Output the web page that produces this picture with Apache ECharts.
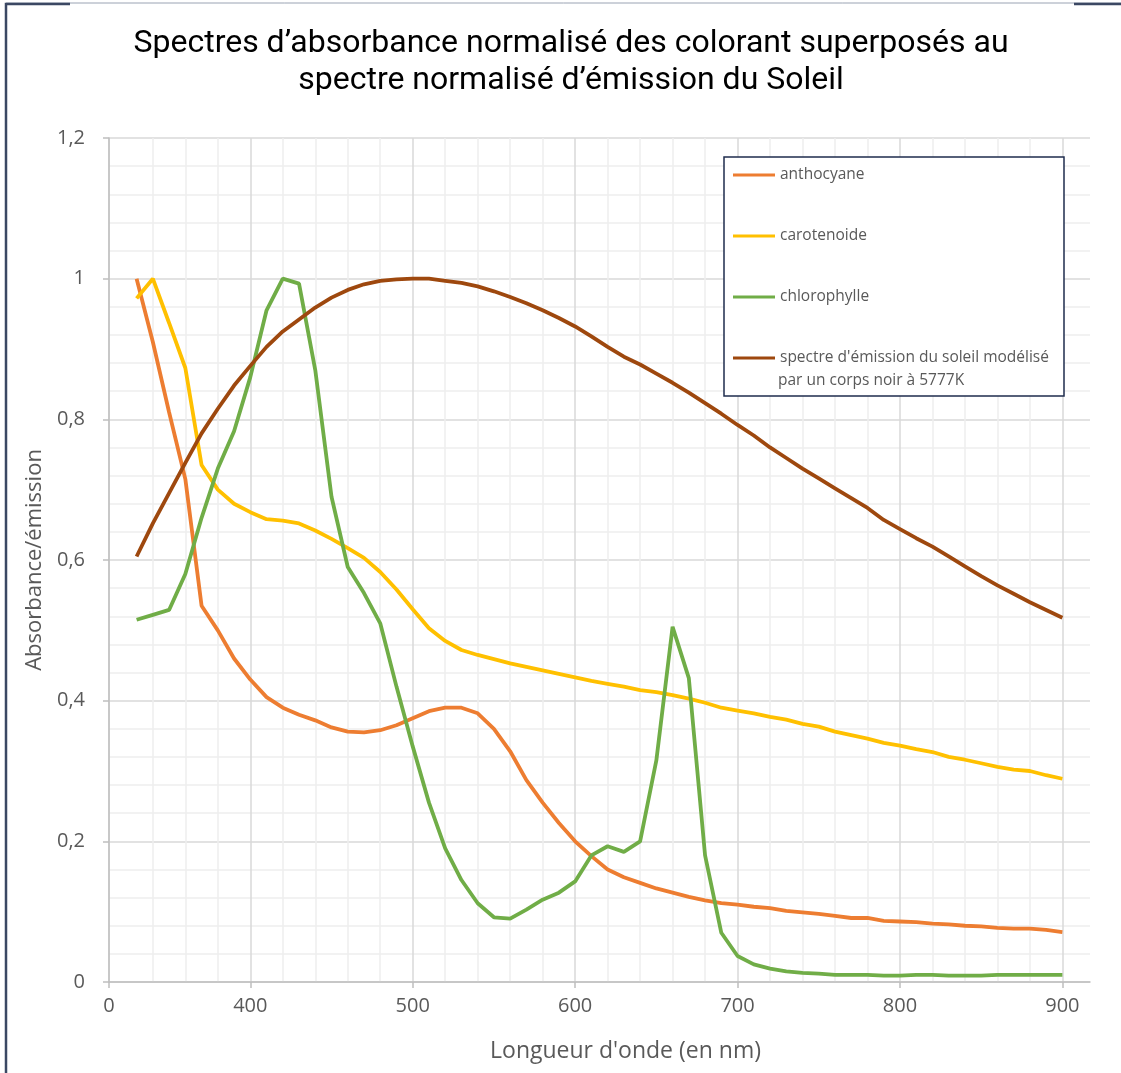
<!DOCTYPE html>
<html>
<head>
<meta charset="utf-8">
<title>Spectres d'absorbance</title>
<script src="https://cdn.jsdelivr.net/npm/echarts@6/dist/echarts.min.js"></script>
<style>
  html, body { margin: 0; padding: 0; background: #fff; }
  #main { width: 1121px; height: 1073px; }
</style>
</head>
<body>
<div id="main"></div>
<script>
// longueurs d'onde (nm)
var wavelengths = [330, 340, 350, 360, 370, 380, 390, 400, 410, 420, 430, 440, 450, 460, 470, 480, 490, 500,
  510, 520, 530, 540, 550, 560, 570, 580, 590, 600, 610, 620, 630, 640, 650, 660, 670, 680, 690, 700,
  710, 720, 730, 740, 750, 760, 770, 780, 790, 800, 810, 820, 830, 840, 850, 860, 870, 880, 890, 900];

var anthocyane = [1.0, 0.91, 0.81, 0.715, 0.535, 0.50, 0.46, 0.43, 0.405, 0.39, 0.38, 0.372, 0.362, 0.356, 0.355, 0.358, 0.365, 0.375,
  0.385, 0.39, 0.39, 0.382, 0.36, 0.328, 0.287, 0.255, 0.226, 0.2, 0.179, 0.16, 0.149, 0.141, 0.133, 0.127, 0.121, 0.116, 0.112, 0.11,
  0.107, 0.105, 0.101, 0.099, 0.097, 0.094, 0.091, 0.091, 0.087, 0.086, 0.085, 0.083, 0.082, 0.08, 0.079, 0.077, 0.076, 0.076, 0.074, 0.071];

var carotenoide = [0.972, 1.0, 0.937, 0.873, 0.735, 0.70, 0.68, 0.668, 0.658, 0.656, 0.652, 0.642, 0.63, 0.617, 0.603, 0.583, 0.558, 0.53,
  0.503, 0.485, 0.472, 0.465, 0.459, 0.453, 0.448, 0.443, 0.438, 0.433, 0.428, 0.424, 0.42, 0.415, 0.412, 0.408, 0.403, 0.397, 0.39, 0.386,
  0.382, 0.377, 0.373, 0.367, 0.363, 0.356, 0.351, 0.346, 0.34, 0.336, 0.331, 0.327, 0.32, 0.316, 0.311, 0.306, 0.302, 0.3, 0.294, 0.289];

var chlorophylle = [0.515, 0.522, 0.529, 0.58, 0.66, 0.73, 0.783, 0.86, 0.955, 1.0, 0.993, 0.87, 0.69, 0.59, 0.553, 0.51, 0.42, 0.335,
  0.255, 0.19, 0.145, 0.112, 0.092, 0.09, 0.103, 0.117, 0.127, 0.143, 0.18, 0.193, 0.185, 0.2, 0.315, 0.505, 0.432, 0.18, 0.07, 0.037,
  0.025, 0.019, 0.015, 0.013, 0.012, 0.01, 0.01, 0.01, 0.009, 0.009, 0.01, 0.01, 0.009, 0.009, 0.009, 0.01, 0.01, 0.01, 0.01, 0.01];

var soleil = [0.605, 0.652, 0.695, 0.738, 0.78, 0.815, 0.848, 0.876, 0.903, 0.925, 0.942, 0.959, 0.973, 0.984, 0.992, 0.997, 0.999, 1.0,
  1.0, 0.997, 0.994, 0.989, 0.982, 0.974, 0.965, 0.955, 0.944, 0.932, 0.918, 0.903, 0.889, 0.878, 0.865, 0.852, 0.838, 0.823, 0.808, 0.792,
  0.777, 0.76, 0.745, 0.73, 0.716, 0.702, 0.688, 0.674, 0.657, 0.644, 0.631, 0.619, 0.605, 0.591, 0.577, 0.564, 0.552, 0.54, 0.529, 0.518];

// graduations de l'axe x (la première est étiquetée "0" sur l'original)
var xTicks = [313, 400, 500, 600, 700, 800, 900];
var xTickLabels = ['0', '400', '500', '600', '700', '800', '900'];
var xMinorTicks = [340, 360, 380, 420, 440, 460, 480, 520, 540, 560, 580, 620, 640, 660, 680,
  720, 740, 760, 780, 820, 840, 860, 880];

var seriesNames = ['anthocyane', 'carotenoide', 'chlorophylle',
  "spectre d'émission du soleil modélisé par un corps noir à 5777K"];
var colors = ['#ED7D31', '#FFC000', '#70AD47', '#9E480E'];

function pairs(ys) {
  var out = [];
  for (var i = 0; i < wavelengths.length; i++) out.push([wavelengths[i], ys[i]]);
  return out;
}

var gray = '#595959';
var axisFont = '"Open Sans", "DejaVu Sans", sans-serif';

var myChart = echarts.init(document.getElementById('main'));

var seriesData = [anthocyane, carotenoide, chlorophylle, soleil].map(function (ys, i) {
  return {
    name: seriesNames[i],
    type: 'line',
    symbol: 'none',
    smooth: false,
    lineStyle: {width: 3.8, color: colors[i]},
    itemStyle: {color: colors[i]},
    z: 2 + i * 0.1,
    data: pairs(ys)
  };
});

var option = {
  backgroundColor: '#fff',
  animation: false,
  title: {
    text: 'Spectres d’absorbance normalisé des colorant superposés au\nspectre normalisé d’émission du Soleil',
    left: 571,
    top: 25,
    textAlign: 'center',
    padding: 0,
    textStyle: {
      fontFamily: 'Roboto, sans-serif',
      fontSize: 32,
      fontWeight: 'normal',
      color: '#000',
      lineHeight: 37
    }
  },
  grid: {left: 109, right: 31, top: 138, bottom: 91},
  legend: {
    orient: 'vertical',
    left: 733,
    top: 165,
    padding: 0,
    itemGap: 41,
    itemWidth: 42,
    itemHeight: 3,
    icon: 'rect',
    data: seriesNames,
    formatter: function (name) {
      return name.indexOf('spectre') === 0 ? "spectre d'émission du soleil modélisé" : name;
    },
    textStyle: {color: gray, fontSize: 15.5, fontFamily: axisFont, lineHeight: 20}
  },
  xAxis: [{
    type: 'value',
    min: 313,
    max: 917,
    name: "Longueur d'onde (en nm)",
    nameLocation: 'middle',
    nameGap: 58,
    nameTextStyle: {color: gray, fontSize: 23, fontFamily: axisFont, padding: [0, 0, 0, 52]},
    axisLine: {show: true, lineStyle: {color: '#bfbfbf', width: 1.5}},
    axisTick: {show: true, length: 6, customValues: xTicks, lineStyle: {color: '#bfbfbf', width: 1.5}},
    axisLabel: {
      customValues: xTicks,
      margin: 14,
      color: gray,
      fontSize: 20,
      fontFamily: axisFont,
      formatter: function (v) {
        var k = xTicks.indexOf(v);
        return k >= 0 ? xTickLabels[k] : '';
      }
    },
    splitLine: {show: true, lineStyle: {color: '#d9d9d9', width: 1.5}}
  }, {
    // axe caché pour le quadrillage secondaire
    type: 'value',
    min: 313,
    max: 917,
    position: 'bottom',
    axisLine: {show: false},
    axisTick: {show: false, customValues: xMinorTicks},
    axisLabel: {show: false},
    splitLine: {show: true, lineStyle: {color: '#eeeeee', width: 1.5}}
  }],
  yAxis: {
    type: 'value',
    min: 0,
    max: 1.2,
    interval: 0.2,
    name: 'Absorbance/émission',
    nameLocation: 'middle',
    nameGap: 62,
    nameTextStyle: {color: gray, fontSize: 22, fontFamily: axisFont},
    axisLine: {show: true, lineStyle: {color: '#bfbfbf', width: 1.5}},
    axisTick: {show: true, length: 6, lineStyle: {color: '#bfbfbf', width: 1.5}},
    axisLabel: {
      margin: 24,
      color: gray,
      fontSize: 20,
      fontFamily: axisFont,
      formatter: function (v) {
        return String(Math.round(v * 10) / 10).replace('.', ',');
      }
    },
    splitLine: {show: true, lineStyle: {color: '#d9d9d9', width: 1.5}},
    minorTick: {show: false, splitNumber: 5},
    minorSplitLine: {show: true, lineStyle: {color: '#eeeeee', width: 1.5}}
  },
  graphic: [
    // cadre de la légende
    {
      type: 'rect',
      z: 3,
      shape: {x: 724, y: 157, width: 340, height: 239},
      style: {fill: '#fff', stroke: '#1f2d4e', lineWidth: 1.5}
    },
    {
      type: 'text',
      z: 5,
      x: 778,
      y: 381,
      style: {text: 'par un corps noir à 5777K', fill: gray, font: '15.5px ' + axisFont, verticalAlign: 'middle'}
    },
    // bords de l'image d'origine
    {
      type: 'polyline',
      z: 5,
      shape: {points: [[6, 1073], [6, 3], [1121, 3]]},
      style: {stroke: '#9aa3b3', lineWidth: 1, fill: null}
    },
    {
      type: 'polyline',
      z: 6,
      shape: {points: [[6, 1073], [6, 4], [70, 4]]},
      style: {stroke: '#3b4863', lineWidth: 2.5, fill: null}
    },
    {
      type: 'line',
      z: 6,
      shape: {x1: 1074, y1: 4, x2: 1121, y2: 4},
      style: {stroke: '#3b4863', lineWidth: 2.5}
    }
  ],
  series: seriesData
};

myChart.setOption(option, true);
</script>
</body>
</html>
